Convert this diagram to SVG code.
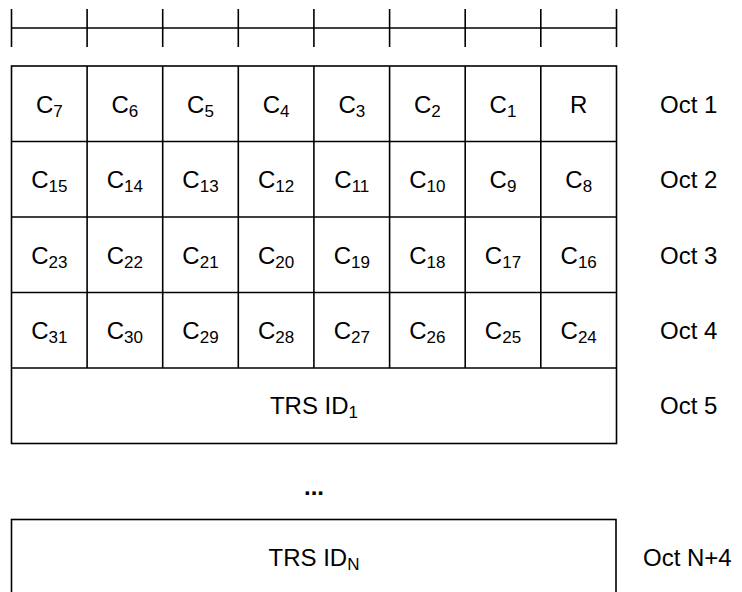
<svg xmlns="http://www.w3.org/2000/svg" width="742" height="592" viewBox="0 0 742 592">
<style>
.ln{stroke:#000;stroke-width:1.6;fill:none}
.cell{stroke:#000;stroke-width:1.6;fill:#fff}
.t{font-family:"Liberation Sans",Arial,sans-serif;font-size:24px;fill:#000;text-anchor:middle}
.o{font-family:"Liberation Sans",Arial,sans-serif;font-size:24px;fill:#000}
.s{font-size:17px}
</style>
<rect width="742" height="592" fill="#fff"/>
<g id="ruler">
<line class="ln" x1="11.5" y1="28" x2="616.5" y2="28"/>
<line class="ln" x1="11.5" y1="9" x2="11.5" y2="47"/>
<line class="ln" x1="87.1" y1="9" x2="87.1" y2="47"/>
<line class="ln" x1="162.7" y1="9" x2="162.7" y2="47"/>
<line class="ln" x1="238.3" y1="9" x2="238.3" y2="47"/>
<line class="ln" x1="313.9" y1="9" x2="313.9" y2="47"/>
<line class="ln" x1="389.6" y1="9" x2="389.6" y2="47"/>
<line class="ln" x1="465.2" y1="9" x2="465.2" y2="47"/>
<line class="ln" x1="540.8" y1="9" x2="540.8" y2="47"/>
<line class="ln" x1="616.5" y1="9" x2="616.5" y2="47"/>
</g>
<g id="grid">
<rect class="cell" x="11.5" y="66" width="605" height="377.5"/>
<line class="ln" x1="11.5" y1="141.5" x2="616.5" y2="141.5"/>
<line class="ln" x1="11.5" y1="217" x2="616.5" y2="217"/>
<line class="ln" x1="11.5" y1="292.5" x2="616.5" y2="292.5"/>
<line class="ln" x1="11.5" y1="368" x2="616.5" y2="368"/>
<line class="ln" x1="87.1" y1="66" x2="87.1" y2="368"/>
<line class="ln" x1="162.7" y1="66" x2="162.7" y2="368"/>
<line class="ln" x1="238.3" y1="66" x2="238.3" y2="368"/>
<line class="ln" x1="313.9" y1="66" x2="313.9" y2="368"/>
<line class="ln" x1="389.6" y1="66" x2="389.6" y2="368"/>
<line class="ln" x1="465.2" y1="66" x2="465.2" y2="368"/>
<line class="ln" x1="540.8" y1="66" x2="540.8" y2="368"/>
</g>
<g id="row1">
<text class="t" x="49.3" y="112.5">C<tspan class="s" dy="4">7</tspan></text>
<text class="t" x="124.9" y="112.5">C<tspan class="s" dy="4">6</tspan></text>
<text class="t" x="200.5" y="112.5">C<tspan class="s" dy="4">5</tspan></text>
<text class="t" x="276.1" y="112.5">C<tspan class="s" dy="4">4</tspan></text>
<text class="t" x="351.8" y="112.5">C<tspan class="s" dy="4">3</tspan></text>
<text class="t" x="427.4" y="112.5">C<tspan class="s" dy="4">2</tspan></text>
<text class="t" x="503" y="112.5">C<tspan class="s" dy="4">1</tspan></text>
<text class="t" x="578.7" y="112.5">R</text>
<text class="o" x="660" y="112.5">Oct 1</text>
</g>
<g id="row2">
<text class="t" x="49.3" y="188">C<tspan class="s" dy="4">15</tspan></text>
<text class="t" x="124.9" y="188">C<tspan class="s" dy="4">14</tspan></text>
<text class="t" x="200.5" y="188">C<tspan class="s" dy="4">13</tspan></text>
<text class="t" x="276.1" y="188">C<tspan class="s" dy="4">12</tspan></text>
<text class="t" x="351.8" y="188">C<tspan class="s" dy="4">11</tspan></text>
<text class="t" x="427.4" y="188">C<tspan class="s" dy="4">10</tspan></text>
<text class="t" x="503" y="188">C<tspan class="s" dy="4">9</tspan></text>
<text class="t" x="578.7" y="188">C<tspan class="s" dy="4">8</tspan></text>
<text class="o" x="660" y="188">Oct 2</text>
</g>
<g id="row3">
<text class="t" x="49.3" y="263.5">C<tspan class="s" dy="4">23</tspan></text>
<text class="t" x="124.9" y="263.5">C<tspan class="s" dy="4">22</tspan></text>
<text class="t" x="200.5" y="263.5">C<tspan class="s" dy="4">21</tspan></text>
<text class="t" x="276.1" y="263.5">C<tspan class="s" dy="4">20</tspan></text>
<text class="t" x="351.8" y="263.5">C<tspan class="s" dy="4">19</tspan></text>
<text class="t" x="427.4" y="263.5">C<tspan class="s" dy="4">18</tspan></text>
<text class="t" x="503" y="263.5">C<tspan class="s" dy="4">17</tspan></text>
<text class="t" x="578.7" y="263.5">C<tspan class="s" dy="4">16</tspan></text>
<text class="o" x="660" y="263.5">Oct 3</text>
</g>
<g id="row4">
<text class="t" x="49.3" y="339">C<tspan class="s" dy="4">31</tspan></text>
<text class="t" x="124.9" y="339">C<tspan class="s" dy="4">30</tspan></text>
<text class="t" x="200.5" y="339">C<tspan class="s" dy="4">29</tspan></text>
<text class="t" x="276.1" y="339">C<tspan class="s" dy="4">28</tspan></text>
<text class="t" x="351.8" y="339">C<tspan class="s" dy="4">27</tspan></text>
<text class="t" x="427.4" y="339">C<tspan class="s" dy="4">26</tspan></text>
<text class="t" x="503" y="339">C<tspan class="s" dy="4">25</tspan></text>
<text class="t" x="578.7" y="339">C<tspan class="s" dy="4">24</tspan></text>
<text class="o" x="660" y="339">Oct 4</text>
</g>
<g id="row5">
<text class="t" x="314" y="414">TRS ID<tspan class="s" dy="4">1</tspan></text>
<text class="o" x="660" y="414">Oct 5</text>
</g>
<g id="ellipsis">
<text class="t" x="314" y="495" font-weight="bold">...</text>
</g>
<g id="rowN">
<rect class="cell" x="11.5" y="519.5" width="604.5" height="90"/>
<text class="t" x="314" y="566">TRS ID<tspan class="s" dy="4">N</tspan></text>
<text class="o" x="643" y="566">Oct N+4</text>
</g>
</svg>
